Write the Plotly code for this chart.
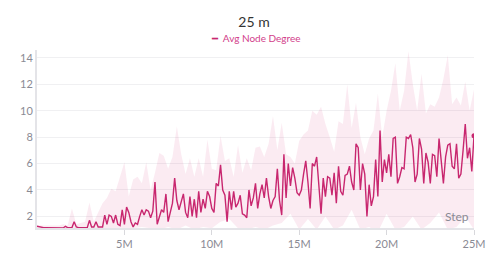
import numpy as np
import plotly.graph_objects as go

# Main series: Avg Node Degree, sampled every 125k steps from 0 to 25M
avg_node_degree = [
    1.25, 1.2, 1.15, 1.15, 1.15, 1.15, 1.15, 1.15, 1.15, 1.15,
    1.12, 1.12, 1.12, 1.25, 1.15, 1.15, 1.15, 1.6, 1.2, 1.15,
    1.15, 1.15, 1.15, 1.15, 1.7, 1.2, 1.2, 1.6, 1.2, 1.2,
    1.2, 2.1, 1.4, 2.1, 2.0, 1.5, 2.1, 1.4, 1.3, 2.5,
    1.4, 2.7, 2.3, 1.6, 1.2, 1.5, 1.4, 2.0, 2.5, 2.1,
    2.5, 2.4, 1.9, 2.4,
    4.6, 1.4, 2.0, 2.5, 2.3, 3.7, 1.6, 2.3, 3.0, 4.9,
    3.2, 2.5, 3.2, 3.7, 2.3, 1.9, 3.5, 2.0, 3.3, 1.9,
    3.9, 2.3, 3.3, 2.6, 3.9, 3.5, 2.6, 2.3, 4.5, 4.3,
    5.9,
    4.0, 3.6, 1.6, 3.9, 2.5, 3.9, 2.7, 3.0, 3.6, 2.2,
    2.1, 1.9, 4.0, 2.8, 3.4, 4.5, 2.6, 3.7, 4.4, 3.4,
    4.9, 3.5, 2.6, 3.2, 3.5, 5.6, 3.2, 2.1,
    6.7,
    3.4, 6.0, 4.3, 5.7, 4.9, 3.8, 3.6, 4.0, 5.2, 6.2,
    4.6, 2.6, 6.0, 5.8, 6.5, 4.0, 2.2, 4.9, 3.5, 5.0,
    4.9, 3.6, 5.3, 3.0, 5.8, 3.9, 3.6, 5.1, 5.2, 5.8,
    4.6, 4.0,
    7.5,
    7.2, 4.0, 6.0, 5.2, 2.0, 4.4, 2.8, 3.5, 6.3, 3.5,
    8.5,
    4.6, 6.3, 5.3, 6.7, 5.0, 7.9, 8.0, 4.5, 5.0, 5.7,
    5.6, 8.0, 7.9, 8.2, 7.2, 4.6, 5.2, 7.9, 7.1,
    4.5, 6.8, 6.1, 4.5, 6.7, 6.6, 5.0, 7.9, 6.2,
    4.5, 6.5, 7.4, 7.5, 5.8, 5.6, 7.5, 4.9, 5.2, 7.0,
    9.0, 6.4, 7.2, 5.4, 8.1,
]

# Upper edge of the shaded band, every 250k steps
band_upper = [
    1.3, 1.3, 1.3, 1.3, 1.3, 1.3, 1.4, 1.3, 2.6, 1.4,
    1.5, 1.6, 3.05, 1.6, 2.3, 3.0, 3.4, 4.1, 3.9, 5.1,
    6.1, 3.5, 4.8, 5.0, 4.5, 6.1, 4.0, 5.3, 6.8, 6.6,
    5.6, 6.5, 8.8, 6.7, 5.2, 6.4, 5.0, 6.4, 5.0, 7.8,
    5.6, 5.5, 8.1, 6.2, 6.4, 5.0, 7.4, 5.3, 6.4, 5.5,
    7.2, 7.3, 6.5, 7.5, 9.6, 7.0, 9.1, 6.7, 6.5, 6.0,
    7.7, 8.2, 8.5, 10.0, 9.7, 10.3, 9.0, 8.0, 6.9, 9.2,
    9.0, 12.0, 8.7, 10.6, 8.0, 6.7, 7.9, 8.5, 11.3, 8.0,
    10.0, 11.5, 13.6, 10.0, 11.5, 14.5, 12.0, 10.0, 12.8, 9.8,
    10.5, 10.3, 11.0, 12.4, 14.2, 10.5, 11.0, 10.4, 12.2, 10.0,
    11.6,
]

# Lower edge of the shaded band, every 500k steps
band_lower = [
    1.1, 1.1, 1.1, 1.1, 1.1, 1.1, 1.1, 1.1, 1.1, 1.1,
    1.05, 1.1, 1.2, 1.1, 1.0, 1.2, 1.0, 1.3, 1.0, 1.2,
    1.1, 1.6, 1.8, 1.1, 1.0, 1.2, 1.0, 1.3, 1.5, 2.2,
    1.0, 1.8, 1.0, 2.0, 1.0, 1.3, 2.5, 1.0, 1.2, 0.8,
    2.2, 1.0, 1.2, 2.0, 1.0, 1.5, 2.3, 1.0, 1.2, 2.0,
    1.0,
]

x_ticks = [5e6, 10e6, 15e6, 20e6, 25e6]
x_tick_labels = ["5M", "10M", "15M", "20M", "25M"]
y_ticks = [2, 4, 6, 8, 10, 12, 14]

TOTAL = 25e6
x_main = np.linspace(0, TOTAL, len(avg_node_degree))
x_upper = np.linspace(0, TOTAL, len(band_upper))
x_lower = np.linspace(0, TOTAL, len(band_lower))

LINE = "#c8276f"
FONT = "Lato, 'Source Sans Pro', 'Noto Sans', sans-serif"

# page body has an 8px margin; size the figure to fit the 500x262 window
W, H = 492, 254
ML, MR, MT, MB = 27, 26, 42, 34
PLOT_H = H - MT - MB

fig = go.Figure()
fig.add_trace(go.Scatter(x=x_lower, y=band_lower, mode="lines",
                         line=dict(width=0), hoverinfo="skip", showlegend=False))
fig.add_trace(go.Scatter(x=x_upper, y=band_upper, mode="lines",
                         line=dict(width=0), fill="tonexty",
                         fillcolor="rgba(220, 60, 130, 0.10)",
                         hoverinfo="skip", showlegend=False))
fig.add_trace(go.Scatter(x=x_main, y=avg_node_degree, mode="lines",
                         name="Avg Node Degree",
                         line=dict(color=LINE, width=1.4), showlegend=False))
fig.add_trace(go.Scatter(x=[x_main[-1]], y=[avg_node_degree[-1]], mode="markers",
                         marker=dict(color=LINE, size=5), showlegend=False,
                         hoverinfo="skip"))

fig.update_layout(
    width=W, height=H,
    margin=dict(l=ML, r=MR, t=MT, b=MB),
    paper_bgcolor="white", plot_bgcolor="white",
    font=dict(family=FONT, size=11, color="#8a8a94"),
    title=dict(text="25 m", x=0.5, xanchor="center",
               y=1 - 14 / H, yanchor="middle",
               font=dict(family=FONT, size=14, color="#333333")),
    annotations=[
        dict(text="<span style='color:%s'>━</span>&nbsp;&nbsp;Avg Node Degree" % LINE,
             x=0.5, xref="paper", y=1 + 12 / PLOT_H, yref="paper",
             yanchor="middle", showarrow=False,
             font=dict(family=FONT, size=10, color="#d2408a")),
        dict(text="Step", x=TOTAL, xref="x", y=0, yref="paper",
             xanchor="right", yanchor="bottom", showarrow=False,
             xshift=-3, yshift=2,
             font=dict(family=FONT, size=12, color="#8a8a94")),
    ],
)

fig.update_xaxes(range=[0, TOTAL], tickvals=x_ticks, ticktext=x_tick_labels,
                 showgrid=False, zeroline=False, showline=True,
                 linecolor="#e4e4e8", linewidth=2, ticks="outside",
                 ticklen=5, tickcolor="#d8d8dc", tickfont=dict(size=11))
fig.update_yaxes(range=[1.12, 14.6], tickvals=y_ticks, showgrid=True,
                 gridcolor="#f0f0f2", gridwidth=1, zeroline=False,
                 showline=True, linecolor="#e4e4e8", linewidth=2,
                 ticks="", tickfont=dict(size=11))

fig.write_html("out.html")
